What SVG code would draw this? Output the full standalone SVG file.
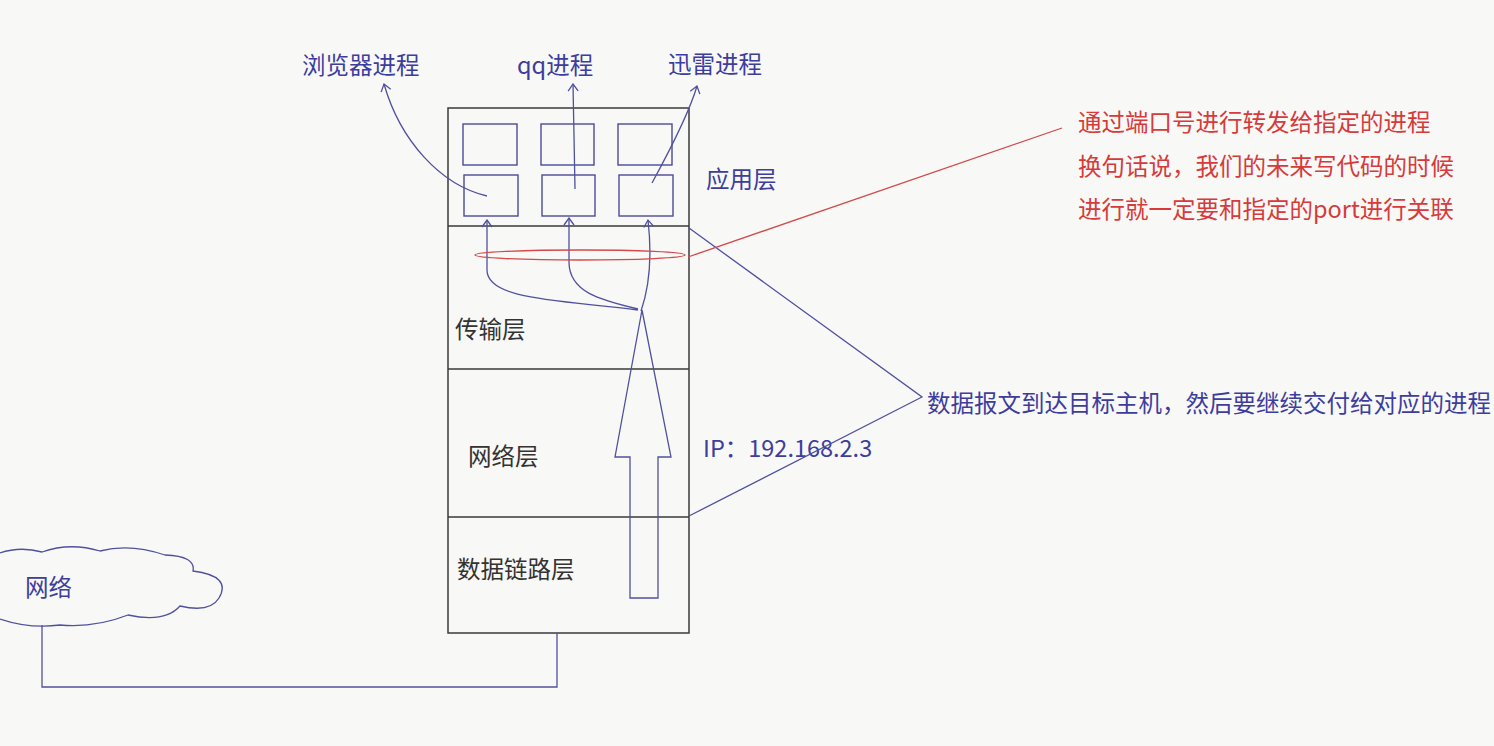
<svg xmlns="http://www.w3.org/2000/svg" width="1494" height="746" viewBox="0 0 1494 746">
<defs>
<style>
.box{fill:none;stroke:#3a3a3a;stroke-width:1.5}
.pbox{fill:none;stroke:#4b4b9a;stroke-width:1.4}
.bl{fill:none;stroke:#5050a0;stroke-width:1.3}
.rd{fill:none;stroke:#d24a4a;stroke-width:1.3}
.t{font-family:"Noto Sans CJK SC","Noto Sans",sans-serif;font-size:23.5px}
.tk{fill:#333}
.tb{fill:#3d3d9e}
.tr{fill:#d63a3a}
</style>
<marker id="oa" viewBox="0 0 12 12" refX="11" refY="6" markerWidth="12" markerHeight="12" orient="auto" markerUnits="userSpaceOnUse">
<path d="M4,1 L11,6 L4,11" fill="none" stroke="#5050a0" stroke-width="1.3"/>
</marker>
</defs>
<rect width="1494" height="746" fill="#f8f8f6"/>
<g id="stack">
<rect class="box" x="448" y="108" width="241" height="525"/>
<line class="box" x1="448" y1="226" x2="689" y2="226"/>
<line class="box" x1="448" y1="369" x2="689" y2="369"/>
<line class="box" x1="448" y1="517" x2="689" y2="517"/>
</g>
<g id="procs">
<rect class="pbox" x="463" y="124" width="54" height="41"/>
<rect class="pbox" x="541" y="124" width="53" height="41"/>
<rect class="pbox" x="618" y="124" width="54" height="41"/>
<rect class="pbox" x="464" y="175" width="54" height="41"/>
<rect class="pbox" x="542" y="175" width="53" height="41"/>
<rect class="pbox" x="619" y="175" width="54" height="41"/>
</g>
<g id="labels">
<text class="t tb" x="302" y="74">浏览器进程</text>
<text class="t tb" x="517" y="74">qq进程</text>
<text class="t tb" x="668" y="73">迅雷进程</text>
<text class="t tb" x="706" y="188">应用层</text>
<text class="t tk" x="455" y="338">传输层</text>
<text class="t tk" x="468" y="465">网络层</text>
<text class="t tk" x="457" y="578">数据链路层</text>
<text class="t tb" x="703" y="457">IP：192.168.2.3</text>
</g>
<g id="bigarrow">
<path class="bl" d="M630,598 L658,598 L658,457 L671,457 L642,310 L615,457 L630,457 Z"/>
</g>
<g id="cloud">
<path class="bl" d="M0,553 Q20,546 42,552 Q70,542 100,551 Q130,543 165,555 Q196,556 193,571 Q232,576 219,598 Q210,613 180,606 Q165,623 128,615 Q95,628 60,625 Q30,629 0,619"/>
<text class="t tb" x="25" y="596">网络</text>
</g>
<g id="connectors">
<path class="bl" d="M638,310 C560,300 487,300 487,270 L487,220" marker-end="url(#oa)"/>
<path class="bl" d="M638,309 C600,300 569,292 569,262 L569,218" marker-end="url(#oa)"/>
<path class="bl" d="M641,311 C650,285 652,255 648,220" marker-end="url(#oa)"/>
<path class="bl" d="M487,196 C440,185 400,140 384,84" marker-end="url(#oa)"/>
<path class="bl" d="M575,189 L573,84" marker-end="url(#oa)"/>
<path class="bl" d="M652,183 C670,150 690,110 697,86" marker-end="url(#oa)"/>
<path class="bl" d="M689,228 L922,397 L689,516"/>
<path class="bl" d="M42,625 L42,687 L557,687 L557,633"/>
<ellipse class="rd" cx="580" cy="255" rx="105" ry="5"/>
<path class="rd" d="M688,257 L1062,128"/>
</g>
<g id="notes">
<text class="t tr" x="1078" y="131">通过端口号进行转发给指定的进程</text>
<text class="t tr" x="1078" y="175">换句话说，我们的未来写代码的时候</text>
<text class="t tr" x="1078" y="218">进行就一定要和指定的port进行关联</text>
<text class="t tb" x="927" y="412">数据报文到达目标主机，然后要继续交付给对应的进程</text>
</g>
</svg>
